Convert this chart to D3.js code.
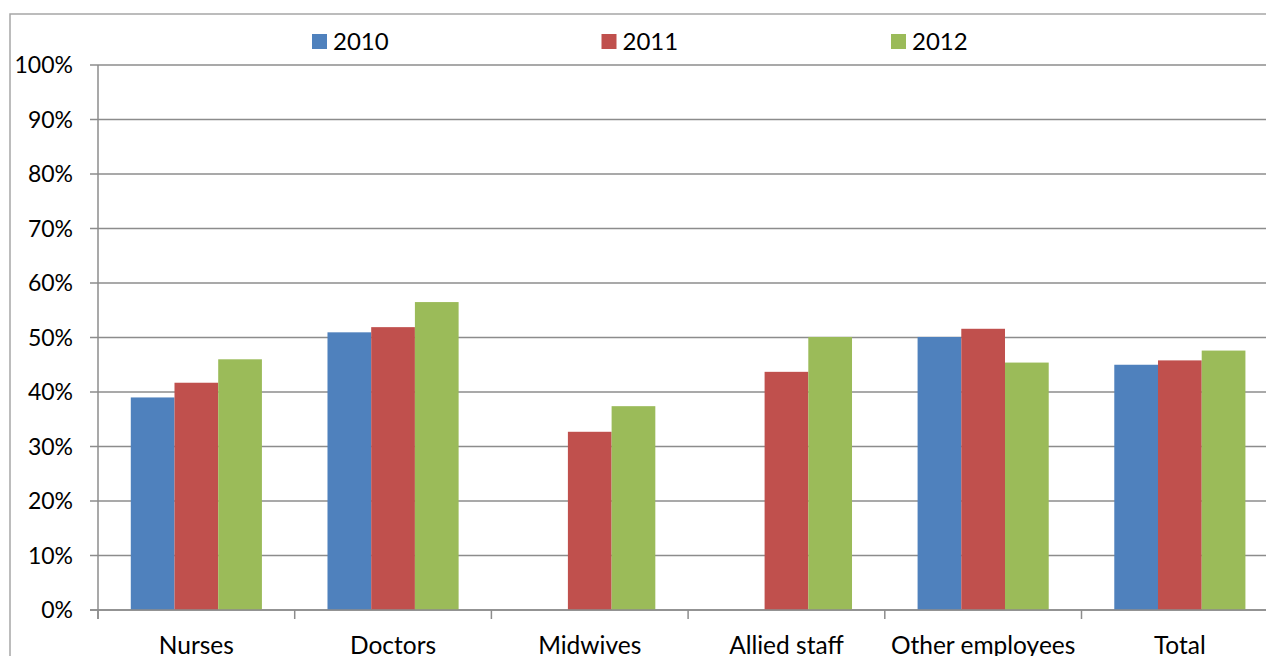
<!DOCTYPE html>
<html><head><meta charset="utf-8">
<script src="https://cdn.jsdelivr.net/npm/d3@7"></script>
<style>body{margin:0;background:#fff;overflow:hidden}svg{display:block}text{font-family:Lato,"Open Sans",sans-serif;fill:#000}</style>
</head><body><svg id="c" width="1266" height="656"></svg>
<script>
const categories = ["Nurses","Doctors","Midwives","Allied staff","Other employees","Total"];
const seriesNames = ["2010","2011","2012"];
const v2010 = [39.0, 50.95, null, null, 50.1, 45.0];
const v2011 = [41.7, 51.9, 32.7, 43.7, 51.6, 45.8];
const v2012 = [46.0, 56.5, 37.4, 50.1, 45.4, 47.6];
const colors = ["#4F81BD","#C0504D","#9BBB59"];
const yTicks = [0,10,20,30,40,50,60,70,80,90,100];

const values = [v2010, v2011, v2012];
const svg = d3.select("#c");

// outer frame
svg.append("rect").attr("x",10).attr("y",14).attr("width",1300).attr("height",700)
  .attr("fill","none").attr("stroke","#a6a6a6").attr("stroke-width",1.5);

const x0 = d3.scaleBand().domain(categories).range([98, 98 + 196.7*6]).paddingInner(0).paddingOuter(0);
const x1 = d3.scaleBand().domain(seriesNames).range([0, x0.bandwidth()]).paddingInner(0).paddingOuter(0.75);
const y = d3.scaleLinear().domain([0,100]).range([610,65]);

// gridlines
svg.append("g").selectAll("line").data(yTicks).join("line")
  .attr("x1",90).attr("x2",1300).attr("y1",d=>y(d)).attr("y2",d=>y(d))
  .attr("stroke","#8c8c8c").attr("stroke-width",1.5);

// y axis labels
svg.append("g").selectAll("text").data(yTicks).join("text")
  .attr("x",73).attr("y",d=>y(d)).attr("dy","0.36em").attr("text-anchor","end")
  .style("font-size","23px").text(d=>d+"%");

// bars
const g = svg.append("g");
categories.forEach((c,i)=>{
  seriesNames.forEach((s,j)=>{
    const v = values[j][i];
    if (v==null) return;
    g.append("rect").attr("x",x0(c)+x1(s)).attr("y",y(v))
      .attr("width",x1.bandwidth()).attr("height",y(0)-y(v))
      .attr("fill",colors[j]);
  });
});

// axes lines
svg.append("line").attr("x1",98).attr("x2",98).attr("y1",65).attr("y2",619)
  .attr("stroke","#8c8c8c").attr("stroke-width",1.5);
svg.append("line").attr("x1",90).attr("x2",1300).attr("y1",y(0)).attr("y2",y(0))
  .attr("stroke","#8c8c8c").attr("stroke-width",1.5);
// category tick marks
const bounds = categories.map(c=>x0(c)).concat([x0(categories[5])+x0.bandwidth()]);
svg.append("g").selectAll("line").data(bounds).join("line")
  .attr("x1",d=>d).attr("x2",d=>d).attr("y1",610).attr("y2",619)
  .attr("stroke","#8c8c8c").attr("stroke-width",1.5);
// category labels
svg.append("g").selectAll("text").data(categories).join("text")
  .attr("x",d=>x0(d)+x0.bandwidth()/2).attr("y",654).attr("text-anchor","middle")
  .style("font-size","24.5px").text(d=>d);

// legend
const legX = [312, 601.5, 891];
const lg = svg.append("g");
seriesNames.forEach((s,j)=>{
  lg.append("rect").attr("x",legX[j]).attr("y",34).attr("width",15).attr("height",15).attr("fill",colors[j]);
  lg.append("text").attr("x",legX[j]+21).attr("y",49.5).style("font-size","24px").text(s);
});
</script></body></html>
